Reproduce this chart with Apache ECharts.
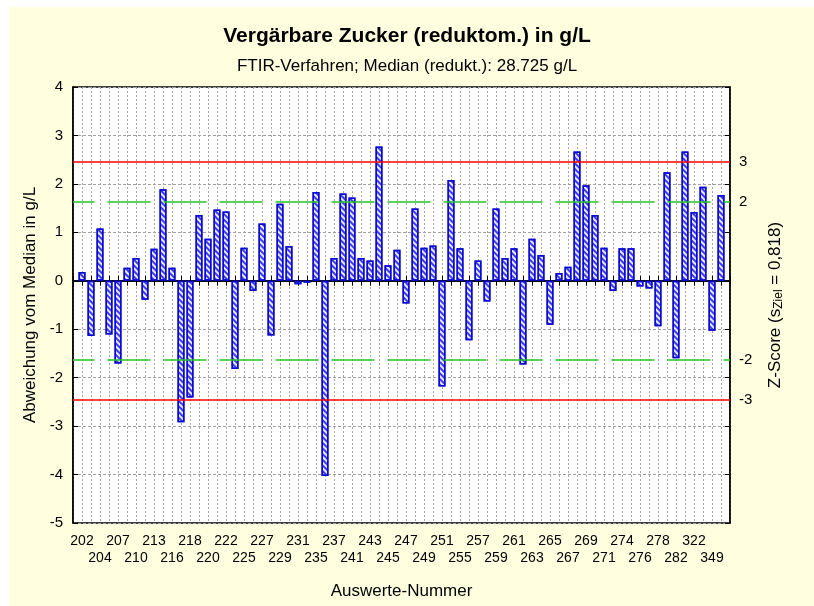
<!DOCTYPE html>
<html>
<head>
<meta charset="utf-8" />
<title>Vergärbare Zucker</title>
<script src="https://cdn.jsdelivr.net/npm/echarts@6/dist/echarts.min.js"></script>
<style>
    body { margin: 0; background: #ffffff; }
    #paper { position: absolute; left: 9px; top: 7px; width: 805px; height: 599px; background: #ffffe0; }
    #main { position: absolute; left: 0; top: 0; width: 814px; height: 606px; }
</style>
</head>
<body>
<div id="paper"></div>
<div id="main"></div>
<script type="text/javascript">
    // Auswerte-Nummern, nur jede zweite ist beschriftet
    var nummern = ['202','204','207','210','213','216','218','220','222','225','227','229',
        '231','235','237','241','243','245','247','249','251','255','257','259',
        '261','263','265','267','269','271','274','276','278','282','322','349'];
    // Abweichung vom Median in g/L
    var abweichung = [0.18,-1.14,1.08,-1.11,-1.71,0.27,0.47,-0.39,0.66,1.89,0.27,-2.92,
        -2.41,1.36,0.87,1.47,1.43,-1.82,0.68,-0.21,1.18,-1.13,1.59,0.72,
        -0.07,-0.04,1.83,-4.03,0.47,1.80,1.72,0.47,0.42,2.77,0.32,0.64,
        -0.47,1.49,0.68,0.73,-2.18,2.08,0.67,-1.23,0.42,-0.43,1.49,0.47,
        0.67,-1.73,0.87,0.53,-0.91,0.16,0.29,2.67,1.97,1.36,0.68,-0.21,
        0.67,0.67,-0.12,-0.16,-0.94,2.24,-1.60,2.67,1.42,1.94,-1.03,1.77];
    var sZiel = 0.818;
    var zScores = [-3, -2, 2, 3];

    // leere Kategorie am Anfang und Ende als Rand
    var kategorien = [' '];
    var werte = ['-'];
    for (var i = 0; i < abweichung.length; i++) {
        kategorien.push(i % 2 === 0 ? nummern[i / 2] : '~' + i);
        werte.push(abweichung[i]);
    }
    kategorien.push('  ');
    werte.push('-');

    var zLinien = zScores.map(function (z) { return z * sZiel; });

    var schrift = 'Liberation Sans';
    var myChart = echarts.init(document.getElementById('main'));
    var option = {
        backgroundColor: 'transparent',
        textStyle: { fontFamily: schrift },
        title: [
            {
                text: 'Vergärbare Zucker (reduktom.) in g/L',
                left: 'center',
                top: 21,
                textStyle: { fontFamily: schrift, fontSize: 21, fontWeight: 'bold', color: '#000' }
            },
            {
                text: 'FTIR-Verfahren; Median (redukt.): 28.725 g/L',
                left: 'center',
                top: 53,
                textStyle: { fontFamily: schrift, fontSize: 17, fontWeight: 'normal', color: '#000' }
            }
        ],
        grid: {
            left: 73, right: 84, top: 87, bottom: 83,
            show: true,
            backgroundColor: '#ffffff',
            borderColor: '#000',
            borderWidth: 1.5
        },
        xAxis: [
            {
                type: 'category',
                data: kategorien,
                boundaryGap: false,
                name: 'Auswerte-Nummer',
                nameLocation: 'middle',
                nameGap: 60,
                nameTextStyle: { fontSize: 17, color: '#000' },
                axisLine: { lineStyle: { color: '#000', width: 1.5 } },
                axisTick: { inside: true, length: 5, interval: 0, lineStyle: { color: '#000' } },
                axisLabel: {
                    interval: 0,
                    margin: 10,
                    fontSize: 14,
                    color: '#000',
                    lineHeight: 17,
                    formatter: function (value, index) {
                        if (value.trim() === '' || value.charAt(0) === '~') return '';
                        var k = (index - 1) / 2;
                        return k % 2 === 1 ? '\n' + value : value;
                    }
                },
                splitLine: { show: true, interval: 0, lineStyle: { color: '#a8a8a8', type: [2, 2], width: 1 } }
            },
            {
                type: 'category',
                data: kategorien,
                boundaryGap: false,
                position: 'top',
                axisLine: { lineStyle: { color: '#000', width: 1.5 } },
                axisTick: { inside: true, length: 5, interval: 0, lineStyle: { color: '#000' } },
                axisLabel: { show: false },
                splitLine: { show: false }
            }
        ],
        yAxis: [
            {
                type: 'value',
                min: -5, max: 4, interval: 1,
                name: 'Abweichung vom Median in g/L',
                nameLocation: 'middle',
                nameRotate: 90,
                nameGap: 32,
                nameTextStyle: { fontSize: 17, color: '#000' },
                axisLine: { show: true, lineStyle: { color: '#000', width: 1.5 } },
                axisTick: { show: true, inside: true, length: 5, lineStyle: { color: '#000' } },
                axisLabel: { fontSize: 15, color: '#000', margin: 10 },
                splitLine: { show: true, lineStyle: { color: '#a0a0a0', type: [3, 2], width: 1 } }
            },
            {
                type: 'value',
                min: -5, max: 4, interval: 1,
                position: 'right',
                name: 'Z-Score (s{sub|Ziel} = 0,818)',
                nameLocation: 'middle',
                nameRotate: 90,
                nameGap: 36,
                nameTextStyle: {
                    fontSize: 17, color: '#000',
                    rich: { sub: { fontSize: 12, padding: [7, 0, 0, 0], color: '#000' } }
                },
                axisLine: { show: true, lineStyle: { color: '#000', width: 1.5 } },
                axisTick: { show: true, inside: true, length: 5, lineStyle: { color: '#000' } },
                axisLabel: {
                    fontSize: 15, color: '#000', margin: 9,
                    customValues: zLinien,
                    formatter: function (v) { return String(Math.round(v / sZiel)); }
                },
                splitLine: { show: false }
            }
        ],
        series: [
            {
                type: 'bar',
                data: werte,
                barWidth: 7,
                itemStyle: {
                    color: '#e8e8ff',
                    borderColor: '#0a0ad2',
                    borderWidth: 1.5,
                    decal: {
                        symbol: 'rect',
                        color: '#3c3ce2',
                        dashArrayX: [1, 0],
                        dashArrayY: [1.2, 1.2],
                        rotation: Math.PI / 4,
                        symbolSize: 1
                    }
                },
                markLine: {
                    silent: true,
                    symbol: 'none',
                    label: { show: false },
                    data: [
                        { yAxis: zLinien[0], lineStyle: { color: '#ff0000', width: 1.5, type: 'solid' } },
                        { yAxis: zLinien[3], lineStyle: { color: '#ff0000', width: 1.5, type: 'solid' } },
                        { yAxis: zLinien[1], lineStyle: { color: '#22c822', width: 1.5, type: [43, 13], dashOffset: 21.5 } },
                        { yAxis: zLinien[2], lineStyle: { color: '#22c822', width: 1.5, type: [43, 13], dashOffset: 21.5 } }
                    ]
                }
            }
        ]
    };
    myChart.setOption(option);
</script>
</body>
</html>
